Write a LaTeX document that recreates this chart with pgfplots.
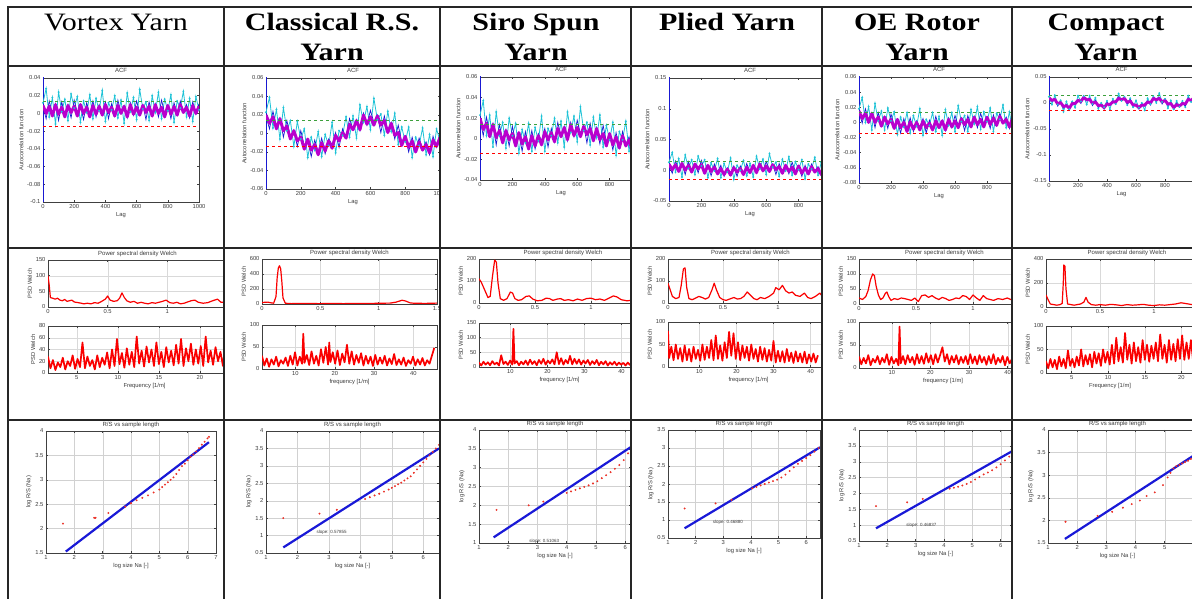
\documentclass[border=0pt]{standalone}
\usepackage{fontspec}
\setmainfont{Liberation Serif}
\setsansfont{Liberation Sans}
\usepackage{pgfplots}
\usepackage{pgfplotstable}
\pgfplotsset{compat=1.18}
\definecolor{acfcyan}{RGB}{30,195,215}
\definecolor{acfblue}{RGB}{25,25,210}
\definecolor{acfmag}{RGB}{185,0,205}
\definecolor{acfgreen}{RGB}{60,160,60}
\definecolor{psdred}{RGB}{250,0,0}
\definecolor{rsblue}{RGB}{25,25,215}
\definecolor{rsred}{RGB}{235,50,40}
\definecolor{tickc}{RGB}{60,60,60}

\pgfplotsset{
  base/.style={scale only axis, clip=true, scaled ticks=false,
    axis line style={black!75, line width=0.5pt},
    tick align=inside, major tick length=1.8pt,
    tick style={black!75, line width=0.4pt},
    tick label style={font=\sffamily\fontsize{5.8}{6.5}\selectfont, text=tickc},
    label style={font=\sffamily\fontsize{5.8}{6.5}\selectfont, text=tickc},
    title style={font=\sffamily\fontsize{6}{7}\selectfont, text=tickc, yshift=-4pt},
    /pgf/number format/assume math mode=true,
    /pgf/number format/fixed, /pgf/number format/precision=2,
    /pgf/number format/1000 sep={},
    xticklabel style={yshift=1pt}, yticklabel style={xshift=1pt},
    xlabel style={yshift=3pt}, ylabel style={yshift=-3pt}},
  acf/.style={base, xmin=0, xmax=1000, xtick={0,200,400,600,800,1000},
    xlabel={Lag}, ylabel={Autocorrelation function}, title={ACF}},
  psd/.style={base, grid=major, grid style={black!15, line width=0.3pt}, ylabel={PSD Welch}, ymin=0},
  psdtop/.style={psd, xmin=0, xmax=1.5, xtick={0,0.5,1,1.5}, title={Power spectral density Welch},
    title style={yshift=-2pt}},
  rs/.style={base, grid=major, grid style={black!18, line width=0.3pt},
    title={R/S vs sample length}, title style={yshift=-2pt}, xlabel={log size Na [-]}, ylabel={log R/S (Na)}},
  noisy/.style={psdred, line width=1.7pt, line join=round},
  smoothpsd/.style={psdred, line width=1.2pt, line join=round},
  rsline/.style={rsblue, line width=2.2pt},
  rspts/.style={rsred, only marks, mark=*, mark size=0.75pt},
}

\newcommand{\acfplots}[1]{%
  \addplot[acfblue, line width=0.6pt] coordinates {(0,-1) (0,1)};
  \addplot[acfcyan, line width=0.8pt, mark=*, mark size=0.5pt] table[x=l,y=c] {#1};
  \addplot[acfblue, line width=0.7pt] table[x=l,y=b] {#1};
  \addplot[acfmag, line width=2.9pt, line join=round] table[x=l,y=m] {#1};
  \addplot[acfgreen, dashed, line width=0.6pt] coordinates {(0,0.014) (1000,0.014)};
  \addplot[red, dashed, line width=0.6pt] coordinates {(0,-0.014) (1000,-0.014)};
}

\pgfplotstableread{
l c b m
0 0.012 0.008 0.009
20 0.028 -0.006 0
40 -0.004 0.014 0.008
60 0.018 0 -0.003
80 -0.012 0.011 0.010
100 0.024 -0.008 -0.001
120 0.002 0.013 0.007
140 0.016 -0.002 -0.004
160 -0.008 0.010 0.009
180 0.022 -0.005 0.001
200 0.006 0.015 0.008
220 0.019 0.001 -0.003
240 -0.010 0.009 0.010
260 0.014 -0.007 0
280 0.001 0.012 0.007
300 0.021 -0.001 -0.004
320 -0.006 0.014 0.009
340 0.017 -0.004 -0.001
360 0.003 0.010 0.008
380 0.026 0.002 -0.002
400 -0.009 0.013 0.010
420 0.012 -0.006 0.001
440 0.004 0.011 0.007
460 0.020 -0.003 -0.003
480 -0.005 0.015 0.009
500 0.015 0 0
520 -0.011 0.009 0.008
540 0.023 -0.005 -0.004
560 0.002 0.012 0.010
580 0.018 -0.002 -0.001
600 -0.007 0.014 0.007
620 0.027 0.001 -0.002
640 0.005 0.010 0.009
660 0.013 -0.007 0.001
680 -0.008 0.013 0.008
700 0.020 -0.001 -0.003
720 0.001 0.011 0.010
740 0.024 -0.004 0
760 -0.006 0.015 0.007
780 0.016 0 -0.004
800 0.003 0.009 0.009
820 0.021 -0.006 -0.001
840 -0.010 0.012 0.008
860 0.014 -0.002 -0.002
880 0.006 0.014 0.010
900 0.025 0.002 0.001
920 -0.004 0.010 0.007
940 0.017 -0.005 -0.003
960 -0.009 0.013 0.009
980 0.019 -0.001 0
1000 0.004 0.011 0.008
}\acfA

\pgfplotstableread{
l c b m
0 0.023 0.019 0.020
20 0.039 0.005 0.011
40 0.006 0.024 0.018
60 0.026 0.008 0.005
80 -0.006 0.017 0.016
100 0.028 -0.004 0.003
120 0.003 0.014 0.008
140 0.014 -0.004 -0.006
160 -0.014 0.004 0.003
180 0.013 -0.014 -0.008
200 -0.006 0.003 -0.004
220 0.005 -0.013 -0.017
240 -0.026 -0.007 -0.006
260 -0.004 -0.025 -0.018
280 -0.018 -0.007 -0.012
300 0.002 -0.020 -0.023
320 -0.025 -0.005 -0.010
340 -0.001 -0.022 -0.019
360 -0.013 -0.006 -0.008
380 0.012 -0.012 -0.016
400 -0.021 0.001 -0.002
420 0.003 -0.015 -0.008
440 -0.002 0.005 0.001
460 0.018 -0.005 -0.005
480 -0.004 0.016 0.010
500 0.019 0.004 0.004
520 -0.005 0.015 0.014
540 0.031 0.003 0.004
560 0.012 0.022 0.020
580 0.029 0.009 0.010
600 0.004 0.025 0.018
620 0.038 0.012 0.009
640 0.015 0.020 0.019
660 0.021 0.001 0.009
680 -0.002 0.019 0.014
700 0.024 0.003 0.001
720 0.002 0.012 0.011
740 0.022 -0.006 -0.002
760 -0.012 0.009 0.001
780 0.007 -0.009 -0.013
800 -0.009 -0.003 -0.003
820 0.007 -0.020 -0.015
840 -0.026 -0.004 -0.008
860 -0.004 -0.020 -0.020
880 -0.013 -0.005 -0.009
900 0.006 -0.017 -0.018
920 -0.023 -0.009 -0.012
940 -0.001 -0.023 -0.021
960 -0.025 -0.003 -0.007
980 0.005 -0.015 -0.014
1000 -0.008 -0.001 -0.004
}\acfB

\pgfplotstableread{
l c b m
0 0.023 0.019 0.020
20 0.037 0.003 0.009
40 0.003 0.021 0.015
60 0.023 0.005 0.002
80 -0.008 0.015 0.014
100 0.026 -0.006 0.001
120 0.003 0.014 0.008
140 0.016 -0.002 -0.004
160 -0.009 0.009 0.008
180 0.020 -0.007 -0.001
200 0.003 0.012 0.005
220 0.015 -0.003 -0.007
240 -0.014 0.005 0.006
260 0.009 -0.012 -0.005
280 -0.004 0.007 0.002
300 0.015 -0.007 -0.010
320 -0.012 0.008 0.003
340 0.011 -0.010 -0.007
360 -0.002 0.005 0.003
380 0.022 -0.002 -0.006
400 -0.012 0.010 0.007
420 0.010 -0.008 -0.001
440 0.003 0.010 0.006
460 0.020 -0.003 -0.003
480 -0.004 0.016 0.010
500 0.017 0.002 0.002
520 -0.008 0.012 0.011
540 0.026 -0.002 -0.001
560 0.006 0.016 0.014
580 0.022 0.002 0.003
600 -0.003 0.018 0.011
620 0.031 0.005 0.002
640 0.008 0.013 0.012
660 0.016 -0.004 0.004
680 -0.006 0.015 0.010
700 0.021 0 -0.002
720 0.001 0.011 0.010
740 0.023 -0.005 -0.001
760 -0.008 0.013 0.005
780 0.013 -0.003 -0.007
800 -0.001 0.005 0.005
820 0.016 -0.011 -0.006
840 -0.016 0.006 0.002
860 0.007 -0.009 -0.009
880 -0.001 0.007 0.003
900 0.017 -0.006 -0.007
920 -0.012 0.002 -0.001
940 0.008 -0.014 -0.012
960 -0.018 0.004 0
980 0.010 -0.010 -0.009
1000 -0.005 0.002 -0.001
}\acfC

\pgfplotstableread{
l c b m
0 0.013 0.009 0.010
20 0.029 -0.005 0.001
40 -0.003 0.015 0.009
60 0.019 0.001 -0.002
80 -0.011 0.012 0.011
100 0.025 -0.007 0
120 0.003 0.014 0.008
140 0.017 -0.001 -0.003
160 -0.007 0.011 0.010
180 0.023 -0.004 0.002
200 0.007 0.016 0.009
220 0.017 -0.001 -0.005
240 -0.012 0.007 0.008
260 0.012 -0.009 -0.002
280 -0.001 0.010 0.005
300 0.019 -0.003 -0.006
320 -0.012 0.008 0.003
340 0.011 -0.010 -0.007
360 -0.003 0.004 0.002
380 0.020 -0.004 -0.008
400 -0.015 0.007 0.004
420 0.008 -0.010 -0.003
440 0 0.007 0.003
460 0.016 -0.007 -0.007
480 -0.009 0.011 0.005
500 0.011 -0.004 -0.004
520 -0.011 0.009 0.008
540 0.023 -0.005 -0.004
560 0.002 0.012 0.010
580 0.018 -0.002 -0.001
600 -0.007 0.014 0.007
620 0.027 0.001 -0.002
640 0.005 0.010 0.009
660 0.013 -0.007 0.001
680 -0.010 0.011 0.006
700 0.018 -0.003 -0.005
720 -0.001 0.009 0.008
740 0.022 -0.006 -0.002
760 -0.008 0.013 0.005
780 0.014 -0.002 -0.006
800 0.001 0.007 0.007
820 0.017 -0.010 -0.005
840 -0.014 0.008 0.004
860 0.010 -0.006 -0.006
880 0.002 0.010 0.006
900 0.021 -0.002 -0.003
920 -0.008 0.006 0.003
940 0.013 -0.009 -0.007
960 -0.013 0.009 0.005
980 0.015 -0.005 -0.004
1000 0 0.007 0.004
}\acfD

\pgfplotstableread{
l c b m
0 0.018 0.014 0.015
20 0.033 -0.001 0.005
40 0 0.018 0.012
60 0.021 0.003 0
80 -0.010 0.013 0.012
100 0.025 -0.007 0
120 0.002 0.013 0.007
140 0.015 -0.003 -0.005
160 -0.010 0.008 0.007
180 0.019 -0.008 -0.002
200 0.002 0.011 0.004
220 0.014 -0.004 -0.008
240 -0.016 0.003 0.004
260 0.007 -0.014 -0.007
280 -0.006 0.005 0
300 0.013 -0.009 -0.012
320 -0.014 0.006 0.001
340 0.009 -0.012 -0.009
360 -0.005 0.002 0
380 0.018 -0.006 -0.010
400 -0.017 0.005 0.002
420 0.004 -0.014 -0.007
440 -0.004 0.003 -0.001
460 0.013 -0.010 -0.010
480 -0.012 0.008 0.002
500 0.008 -0.007 -0.007
520 -0.017 0.003 0.002
540 0.017 -0.011 -0.010
560 -0.004 0.006 0.004
580 0.013 -0.007 -0.006
600 -0.012 0.009 0.002
620 0.022 -0.004 -0.007
640 0.001 0.006 0.005
660 0.009 -0.011 -0.003
680 -0.012 0.009 0.004
700 0.017 -0.004 -0.006
720 -0.002 0.008 0.007
740 0.021 -0.007 -0.003
760 -0.009 0.012 0.004
780 0.014 -0.002 -0.006
800 0.001 0.007 0.007
820 0.019 -0.008 -0.003
840 -0.012 0.010 0.006
860 0.012 -0.004 -0.004
880 0.004 0.012 0.008
900 0.023 0 -0.001
920 -0.007 0.007 0.004
940 0.014 -0.008 -0.006
960 -0.012 0.010 0.006
980 0.016 -0.004 -0.003
1000 0.001 0.008 0.005
}\acfE

\pgfplotstableread{
l c b m
0 0.012 0.013 0.010
20 -0.003 0.003 0.005
40 0.015 0.009 0.007
60 -0.003 -0.006 -0.002
80 0.005 0.004 0.001
100 -0.017 -0.010 -0.007
120 0.003 -0.003 -0.005
140 -0.012 -0.014 -0.010
160 0.003 0.002 -0.001
180 -0.009 -0.003 -0.001
200 0.014 0.007 0.005
220 0.003 -0.001 0.003
240 0.013 0.014 0.011
260 -0.003 0.004 0.006
280 0.014 0.009 0.007
300 -0.002 -0.005 -0.001
320 0.010 0.005 0.002
340 -0.011 -0.008 -0.005
360 0 -0.002 -0.004
380 -0.008 -0.012 -0.009
400 0.004 0.001 -0.002
420 -0.012 -0.005 -0.003
440 0.008 0.004 0.002
460 -0.002 -0.002 0.002
480 0.018 0.012 0.009
500 0.004 0.004 0.006
520 0.012 0.011 0.009
540 -0.004 -0.003 0.001
560 0.009 0.007 0.004
580 -0.008 -0.007 -0.004
600 0.005 -0.002 -0.004
620 -0.009 -0.012 -0.009
640 0 -0.001 -0.004
660 -0.014 -0.006 -0.004
680 0.009 0.004 0.002
700 -0.002 -0.004 0
720 0.013 0.012 0.009
740 0 0.004 0.006
760 0.019 0.011 0.009
780 0.002 -0.002 0.002
800 0.008 0.008 0.005
820 -0.010 -0.005 -0.002
840 0.005 0.001 -0.001
860 -0.012 -0.012 -0.009
880 0.004 0 -0.003
900 -0.007 -0.008 -0.006
920 0.004 0.001 -0.001
940 -0.008 -0.006 -0.002
960 0.014 0.010 0.007
980 0.002 0.003 0.005
1000 0.015 0.012 0.010
}\acfF

\begin{document}
\begin{tikzpicture}
\path[use as bounding box, fill=white] (0,0) rectangle (1192pt,599pt);

% ---------- header row ----------
\begin{scope}[every node/.style={anchor=base, xscale=1.2, transform shape, font=\fontsize{25}{30}\selectfont\bfseries}]
\node[font=\fontsize{25}{30}\selectfont] at (116pt,568pt) {Vortex Yarn};
\node at (332pt,568pt) {Classical R.S.};
\node at (332pt,538pt) {Yarn};
\node at (536pt,568pt) {Siro Spun};
\node at (536pt,538pt) {Yarn};
\node at (727pt,568pt) {Plied Yarn};
\node at (917pt,568pt) {OE Rotor};
\node at (917pt,538pt) {Yarn};
\node at (1106pt,568pt) {Compact};
\node at (1106pt,538pt) {Yarn};
\end{scope}

% ---------- ACF row ----------
\begin{scope}\clip (9pt,352pt) rectangle (223pt,532pt);
\begin{axis}[acf, at={(43pt,397pt)}, anchor=south west, width=156pt, height=124pt,
  ymin=-0.1, ymax=0.04, ytick={-0.1,-0.08,-0.06,-0.04,-0.02,0,0.02,0.04}]
\acfplots{\acfA}
\end{axis}\end{scope}

\begin{scope}\clip (225pt,352pt) rectangle (439pt,532pt);
\begin{axis}[acf, at={(266pt,410pt)}, anchor=south west, width=174pt, height=111pt,
  ymin=-0.06, ymax=0.06, ytick={-0.06,-0.04,-0.02,0,0.02,0.04,0.06}]
\acfplots{\acfB}
\end{axis}\end{scope}

\begin{scope}\clip (441pt,352pt) rectangle (630pt,532pt);
\begin{axis}[acf, at={(480pt,419pt)}, anchor=south west, width=162pt, height=103pt,
  ymin=-0.04, ymax=0.06, ytick={-0.04,-0.02,0,0.02,0.04,0.06}]
\acfplots{\acfC}
\end{axis}\end{scope}

\begin{scope}\clip (632pt,352pt) rectangle (821pt,532pt);
\begin{axis}[acf, at={(669pt,398pt)}, anchor=south west, width=162pt, height=123pt,
  ymin=-0.05, ymax=0.15, ytick={-0.05,0,0.05,0.1,0.15}]
\acfplots{\acfD}
\end{axis}\end{scope}

\begin{scope}\clip (823pt,352pt) rectangle (1011pt,532pt);
\begin{axis}[acf, at={(859pt,416pt)}, anchor=south west, width=160pt, height=106pt,
  ymin=-0.08, ymax=0.06, ytick={-0.08,-0.06,-0.04,-0.02,0,0.02,0.04,0.06}]
\acfplots{\acfE}
\end{axis}\end{scope}

\begin{scope}\clip (1013pt,352pt) rectangle (1192pt,532pt);
\begin{axis}[acf, at={(1049pt,418pt)}, anchor=south west, width=145pt, height=104pt,
  xtick={0,200,400,600,800},
  ymin=-0.15, ymax=0.05, ytick={-0.15,-0.1,-0.05,0,0.05}]
\acfplots{\acfF}
\end{axis}\end{scope}

% ---------- PSD row ----------
% col 1
\begin{scope}\clip (9pt,180pt) rectangle (223pt,350pt);
\begin{axis}[psdtop, at={(48pt,292pt)}, anchor=south west, width=179pt, height=47pt,
  ymax=150, ytick={0,50,100,150}]
\addplot[smoothpsd] coordinates {(0,100)(0.01,70)(0.02,30)(0.04,28)(0.06,25)(0.08,28)(0.1,22)(0.12,20)(0.14,24)(0.16,18)(0.18,20)(0.2,22)(0.22,16)(0.25,14)(0.28,12)(0.3,10)(0.33,12)(0.36,10)(0.39,14)(0.42,12)(0.45,18)(0.48,25)(0.5,35)(0.52,22)(0.55,18)(0.58,20)(0.6,28)(0.62,45)(0.64,30)(0.66,20)(0.69,15)(0.72,18)(0.75,12)(0.78,15)(0.81,12)(0.84,10)(0.87,14)(0.9,12)(0.93,15)(0.96,18)(0.99,22)(1.02,14)(1.05,12)(1.08,15)(1.11,10)(1.14,12)(1.17,16)(1.2,20)(1.23,22)(1.26,15)(1.3,12)(1.34,14)(1.38,20)(1.42,25)(1.45,15)(1.5,15)};
\end{axis}
\begin{axis}[psd, at={(48pt,226pt)}, anchor=south west, width=193pt, height=47pt,
  xmin=1.5, xmax=25, xtick={5,10,15,20,25}, ymax=80, ytick={0,20,40,60,80}, xlabel={Frequency [1/m]}]
\addplot[noisy] coordinates {(1.5,28)(1.8,8)(2.1,22)(2.4,5)(2.7,18)(3.0,10)(3.3,26)(3.6,6)(3.9,20)(4.2,12)(4.5,30)(4.8,7)(5.1,24)(5.4,10)(5.7,52)(6.0,8)(6.3,28)(6.6,12)(6.9,22)(7.2,6)(7.5,30)(7.8,10)(8.1,26)(8.4,14)(8.7,35)(9.0,8)(9.3,40)(9.6,12)(9.9,58)(10.2,15)(10.5,34)(10.8,9)(11.1,42)(11.4,14)(11.7,36)(12.0,10)(12.3,62)(12.6,16)(12.9,38)(13.2,11)(13.5,45)(13.8,18)(14.1,40)(14.4,12)(14.7,52)(15.0,15)(15.3,36)(15.6,10)(15.9,44)(16.2,18)(16.5,38)(16.8,13)(17.1,48)(17.4,16)(17.7,58)(18.0,12)(18.3,42)(18.6,20)(18.9,50)(19.2,14)(19.5,40)(19.8,16)(20.1,46)(20.4,12)(20.7,62)(21.0,18)(21.3,38)(21.6,14)(21.9,44)(22.2,20)(22.5,36)(22.8,12)(23.1,50)(23.4,16)(23.7,40)(24.0,14)(24.3,38)(24.6,18)(24.9,30)};
\end{axis}\end{scope}

% col 2
\begin{scope}\clip (225pt,180pt) rectangle (439pt,350pt);
\begin{axis}[psdtop, at={(262pt,295pt)}, anchor=south west, width=175pt, height=45pt,
  ymax=600, ytick={0,200,400,600}]
\addplot[smoothpsd] coordinates {(0,20)(0.05,25)(0.08,15)(0.1,10)(0.12,100)(0.13,350)(0.14,480)(0.15,510)(0.16,470)(0.17,300)(0.18,80)(0.2,10)(0.25,5)(0.3,8)(0.4,6)(0.5,5)(0.6,7)(0.7,5)(0.8,8)(0.9,6)(1.0,10)(1.1,12)(1.15,25)(1.2,50)(1.23,40)(1.27,15)(1.3,10)(1.4,8)(1.5,12)};
\end{axis}
\begin{axis}[psd, at={(262pt,230pt)}, anchor=south west, width=175pt, height=44pt,
  xmin=1.5, xmax=46, xtick={10,20,30,40}, ymax=100, ytick={0,50,100}, xlabel={frequency [1/m]}]
\addplot[noisy] coordinates {(1.5,30)(2.1,8)(2.7,24)(3.3,5)(3.9,22)(4.5,10)(5.1,28)(5.7,6)(6.3,20)(6.9,12)(7.5,26)(8.1,7)(8.7,30)(9.3,10)(9.9,38)(10.5,8)(11.1,28)(11.7,12)(12.0,80)(12.3,14)(12.9,32)(13.5,9)(14.1,40)(14.7,12)(15.3,30)(15.9,8)(16.5,45)(17.1,14)(17.7,50)(18.3,10)(18.6,60)(18.9,16)(19.5,38)(20.1,12)(20.7,42)(21.3,9)(21.9,35)(22.5,15)(23.1,55)(23.7,12)(24.3,40)(24.9,10)(25.5,32)(26.1,14)(26.7,36)(27.3,8)(27.9,30)(28.5,12)(29.1,28)(29.7,7)(30.3,32)(30.9,10)(31.5,26)(32.1,12)(32.7,30)(33.3,8)(33.9,24)(34.5,11)(35.1,34)(35.7,9)(36.3,22)(36.9,10)(37.5,26)(38.1,7)(38.7,20)(39.3,12)(39.9,28)(40.5,8)(41.1,22)(41.7,10)(42.3,25)(42.9,8)(43.5,20)(44.1,12)(44.7,30)(45.3,48)};
\end{axis}\end{scope}

% col 3
\begin{scope}\clip (441pt,180pt) rectangle (630pt,350pt);
\begin{axis}[psdtop, at={(479pt,296pt)}, anchor=south west, width=168pt, height=44pt,
  xtick={0,0.5,1}, ymax=200, ytick={0,100,200}]
\addplot[smoothpsd] coordinates {(0,110)(0.02,95)(0.05,60)(0.08,25)(0.1,30)(0.12,120)(0.14,195)(0.155,185)(0.17,90)(0.19,20)(0.22,12)(0.25,20)(0.28,50)(0.3,45)(0.32,20)(0.35,12)(0.38,15)(0.42,30)(0.45,32)(0.48,18)(0.52,10)(0.56,12)(0.6,22)(0.63,20)(0.66,12)(0.7,18)(0.73,20)(0.76,12)(0.8,15)(0.84,10)(0.88,18)(0.92,12)(0.96,20)(1.0,22)(1.04,15)(1.08,18)(1.12,12)(1.16,22)(1.2,32)(1.23,28)(1.27,15)(1.32,10)(1.36,12)(1.4,15)(1.5,12)};
\end{axis}
\begin{axis}[psd, at={(479pt,232pt)}, anchor=south west, width=161pt, height=44pt,
  xmin=1.5, xmax=45, xtick={10,20,30,40}, ymax=150, ytick={0,50,100,150}, xlabel={frequency [1/m]}]
\addplot[noisy] coordinates {(1.5,15)(2.1,5)(2.7,18)(3.3,8)(3.9,16)(4.5,6)(5.1,20)(5.7,9)(6.3,15)(6.9,5)(7.5,40)(8.1,10)(8.7,18)(9.3,7)(9.9,22)(10.5,8)(10.8,130)(11.1,12)(11.7,20)(12.3,6)(12.9,18)(13.5,9)(14.1,22)(14.7,7)(15.3,25)(15.9,10)(16.5,20)(17.1,6)(17.7,24)(18.3,11)(18.9,28)(19.5,8)(20.1,22)(20.7,12)(21.3,26)(21.9,9)(22.5,50)(23.1,10)(23.7,30)(24.3,8)(24.9,24)(25.5,12)(26.1,38)(26.7,9)(27.3,28)(27.9,11)(28.5,26)(29.1,8)(29.7,22)(30.3,12)(30.9,24)(31.5,7)(32.1,20)(32.7,10)(33.3,24)(33.9,6)(34.5,18)(35.1,9)(35.7,20)(36.3,5)(36.9,16)(37.5,8)(38.1,18)(38.7,6)(39.3,15)(39.9,8)(40.5,14)(41.1,5)(41.7,15)(42.3,7)(42.9,12)(43.5,6)(44.1,14)(44.7,8)};
\end{axis}\end{scope}

% col 4
\begin{scope}\clip (632pt,180pt) rectangle (821pt,350pt);
\begin{axis}[psdtop, at={(668pt,296pt)}, anchor=south west, width=165pt, height=44pt,
  xtick={0,0.5,1}, ymax=200, ytick={0,100,200}]
\addplot[smoothpsd] coordinates {(0,90)(0.02,60)(0.04,30)(0.07,20)(0.1,25)(0.12,80)(0.14,155)(0.155,160)(0.17,70)(0.19,20)(0.22,15)(0.25,22)(0.28,30)(0.31,25)(0.34,18)(0.37,25)(0.4,60)(0.42,90)(0.44,60)(0.47,25)(0.5,15)(0.53,12)(0.56,18)(0.6,25)(0.63,18)(0.66,20)(0.69,30)(0.72,50)(0.75,35)(0.78,20)(0.81,15)(0.84,25)(0.88,20)(0.92,30)(0.96,45)(0.98,70)(1.01,60)(1.04,80)(1.07,55)(1.1,45)(1.13,50)(1.16,35)(1.2,30)(1.24,45)(1.27,25)(1.3,20)(1.34,30)(1.38,45)(1.42,20)(1.46,15)(1.5,20)};
\end{axis}
\begin{axis}[psd, at={(668pt,232pt)}, anchor=south west, width=161pt, height=45pt,
  xmin=1.5, xmax=45, xtick={10,20,30,40}, ymax=100, ytick={0,50,100}, xlabel={frequency [1/m]}]
\addplot[noisy] coordinates {(1.5,80)(1.8,20)(2.4,45)(3.0,15)(3.6,50)(4.2,18)(4.8,42)(5.4,12)(6.0,48)(6.6,15)(7.2,40)(7.8,12)(8.4,45)(9.0,18)(9.6,38)(10.2,14)(10.8,50)(11.4,16)(12.0,45)(12.6,20)(13.2,60)(13.8,15)(14.4,70)(15.0,18)(15.6,48)(16.2,14)(16.8,55)(17.4,20)(18.0,78)(18.6,25)(19.2,75)(19.8,18)(20.4,55)(21.0,15)(21.6,48)(22.2,20)(22.8,45)(23.4,14)(24.0,50)(24.6,18)(25.2,40)(25.8,12)(26.4,45)(27.0,16)(27.6,42)(28.2,12)(28.8,38)(29.4,14)(30.0,58)(30.6,10)(31.2,36)(31.8,12)(32.4,35)(33.0,10)(33.6,40)(34.2,13)(34.8,32)(35.4,9)(36.0,35)(36.6,12)(37.2,30)(37.8,10)(38.4,34)(39.0,8)(39.6,28)(40.2,12)(40.8,30)(41.4,10)(42.0,26)};
\end{axis}\end{scope}

% col 5
\begin{scope}\clip (823pt,180pt) rectangle (1011pt,350pt);
\begin{axis}[psdtop, at={(859pt,295pt)}, anchor=south west, width=171pt, height=45pt,
  xtick={0,0.5,1}, ymax=150, ytick={0,50,100,150}]
\addplot[smoothpsd] coordinates {(0,20)(0.03,15)(0.06,25)(0.08,45)(0.1,80)(0.12,100)(0.135,95)(0.15,60)(0.17,30)(0.19,15)(0.21,20)(0.23,35)(0.245,40)(0.26,25)(0.28,12)(0.31,18)(0.34,15)(0.37,20)(0.4,18)(0.43,15)(0.46,12)(0.49,20)(0.52,8)(0.55,28)(0.58,30)(0.61,22)(0.64,28)(0.67,20)(0.7,15)(0.73,22)(0.76,18)(0.79,12)(0.82,15)(0.85,20)(0.88,18)(0.91,28)(0.94,25)(0.97,15)(1.0,30)(1.03,20)(1.06,12)(1.09,28)(1.12,18)(1.15,15)(1.18,12)(1.22,18)(1.26,15)(1.3,20)(1.35,12)(1.4,18)(1.5,15)};
\end{axis}
\begin{axis}[psd, at={(859pt,231pt)}, anchor=south west, width=168pt, height=46pt,
  xmin=1.5, xmax=45, xtick={10,20,30,40}, ymax=100, ytick={0,50,100}, xlabel={frequency [1/m]}]
\addplot[noisy] coordinates {(1.5,25)(2.1,8)(2.7,22)(3.3,10)(3.9,28)(4.5,6)(5.1,20)(5.7,12)(6.3,26)(6.9,8)(7.5,22)(8.1,12)(8.7,30)(9.3,7)(9.9,24)(10.5,10)(11.1,20)(11.7,6)(12.0,90)(12.3,10)(12.9,26)(13.5,8)(14.1,28)(14.7,12)(15.3,24)(15.9,7)(16.5,30)(17.1,10)(17.7,26)(18.3,9)(18.9,32)(19.5,12)(20.1,28)(20.7,8)(21.3,30)(21.9,12)(22.5,28)(23.1,45)(23.7,14)(24.3,30)(24.9,8)(25.5,26)(26.1,12)(26.7,28)(27.3,8)(27.9,24)(28.5,11)(29.1,26)(29.7,8)(30.3,30)(30.9,10)(31.5,25)(32.1,8)(32.7,28)(33.3,12)(33.9,24)(34.5,7)(35.1,26)(35.7,10)(36.3,30)(36.9,8)(37.5,22)(38.1,12)(38.7,26)(39.3,6)(39.9,24)(40.5,10)(41.1,20)};
\end{axis}\end{scope}

% col 6
\begin{scope}\clip (1013pt,180pt) rectangle (1192pt,350pt);
\begin{axis}[psdtop, at={(1046pt,292pt)}, anchor=south west, width=162pt, height=48pt,
  xtick={0,0.5,1}, ymax=400, ytick={0,200,400}]
\addplot[smoothpsd] coordinates {(0,100)(0.02,60)(0.04,25)(0.07,20)(0.1,15)(0.13,20)(0.15,30)(0.16,200)(0.165,350)(0.175,340)(0.185,150)(0.2,25)(0.23,20)(0.26,15)(0.29,20)(0.32,25)(0.35,40)(0.37,80)(0.39,40)(0.42,20)(0.46,15)(0.5,20)(0.55,15)(0.6,22)(0.65,18)(0.7,12)(0.75,20)(0.8,15)(0.85,18)(0.9,22)(0.95,15)(1.0,12)(1.05,18)(1.1,15)(1.15,20)(1.2,25)(1.25,35)(1.3,28)(1.35,20)(1.4,15)(1.5,18)};
\end{axis}
\begin{axis}[psd, at={(1046pt,226pt)}, anchor=south west, width=172pt, height=47pt,
  xmin=1.5, xmax=25, xtick={5,10,15,20}, ymax=100, ytick={0,50,100}, xlabel={Frequency [1/m]},
  xlabel style={xshift=-22pt}]
\addplot[noisy] coordinates {(1.5,25)(1.8,10)(2.1,30)(2.4,12)(2.7,28)(3.0,8)(3.3,35)(3.6,14)(3.9,30)(4.2,10)(4.5,48)(4.8,15)(5.1,30)(5.4,12)(5.7,35)(6.0,16)(6.3,50)(6.6,14)(6.9,38)(7.2,18)(7.5,40)(7.8,12)(8.1,45)(8.4,20)(8.7,42)(9.0,15)(9.3,50)(9.6,22)(9.9,45)(10.2,18)(10.5,60)(10.8,20)(11.1,75)(11.4,25)(11.7,55)(12.0,22)(12.3,85)(12.6,28)(12.9,60)(13.2,20)(13.5,65)(13.8,25)(14.1,55)(14.4,22)(14.7,70)(15.0,28)(15.3,60)(15.6,24)(15.9,58)(16.2,30)(16.5,65)(16.8,25)(17.1,82)(17.4,30)(17.7,60)(18.0,22)(18.3,70)(18.6,28)(18.9,62)(19.2,25)(19.5,72)(19.8,30)(20.1,80)(20.4,28)(20.7,65)(21.0,30)(21.3,70)(21.6,25)(21.9,60)(22.2,30)};
\end{axis}\end{scope}

% ---------- R/S row ----------
\begin{scope}\clip (9pt,0pt) rectangle (223pt,178pt);
\begin{axis}[rs, at={(46pt,46pt)}, anchor=south west, width=170pt, height=122pt,
  xmin=1, xmax=7, ymin=1.5, ymax=4, xtick={1,2,3,4,5,6,7}, ytick={1.5,2,2.5,3,3.5,4}]
\addplot[rsline] coordinates {(1.7,1.53) (6.75,3.77)};
\addplot[rspts] coordinates {(1.6,2.1)(2.7,2.22)(2.75,2.22)(3.2,2.32)(3.8,2.45)(4.0,2.52)(4.2,2.58)(4.4,2.63)(4.6,2.68)(4.8,2.74)(5.0,2.8)(5.1,2.85)(5.2,2.9)(5.3,2.95)(5.4,3.0)(5.5,3.05)(5.6,3.12)(5.7,3.2)(5.8,3.28)(5.9,3.33)(6.0,3.4)(6.1,3.47)(6.2,3.52)(6.3,3.58)(6.4,3.65)(6.5,3.72)(6.6,3.78)(6.7,3.85)(6.75,3.88)};
\end{axis}\end{scope}

\begin{scope}\clip (225pt,0pt) rectangle (439pt,178pt);
\begin{axis}[rs, at={(266pt,46pt)}, anchor=south west, width=173pt, height=122pt,
  xmin=1, xmax=6.5, ymin=0.5, ymax=4, xtick={1,2,3,4,5,6}, ytick={0.5,1,1.5,2,2.5,3,3.5,4}]
\addplot[rsline] coordinates {(1.55,0.66) (6.5,3.5)};
\addplot[rspts] coordinates {(1.55,1.5)(2.7,1.63)(3.25,1.74)(4.15,2.05)(4.3,2.1)(4.45,2.15)(4.6,2.2)(4.75,2.26)(4.9,2.32)(5.0,2.37)(5.1,2.42)(5.2,2.47)(5.3,2.52)(5.4,2.58)(5.5,2.64)(5.6,2.7)(5.7,2.8)(5.8,2.9)(5.9,3.0)(6.0,3.1)(6.1,3.2)(6.2,3.3)(6.3,3.4)(6.4,3.5)(6.5,3.6)};
\node[font=\sffamily\fontsize{4.5}{5}\selectfont, text=tickc, anchor=west] at (axis cs:2.5,1.08) {slope: 0.57855};
\end{axis}\end{scope}

\begin{scope}\clip (441pt,0pt) rectangle (630pt,178pt);
\begin{axis}[rs, at={(479pt,56pt)}, anchor=south west, width=152pt, height=113pt,
  xmin=1, xmax=6.2, ymin=1, ymax=4, xtick={1,2,3,4,5,6}, ytick={1,1.5,2,2.5,3,3.5,4}]
\addplot[rsline] coordinates {(1.5,1.15) (6.2,3.55)};
\addplot[rspts] coordinates {(1.6,1.88)(2.7,2.0)(3.2,2.1)(4.0,2.33)(4.15,2.37)(4.3,2.41)(4.45,2.45)(4.6,2.49)(4.75,2.53)(4.9,2.58)(5.05,2.64)(5.2,2.72)(5.35,2.8)(5.5,2.88)(5.65,2.97)(5.8,3.07)(5.95,3.2)(6.1,3.38)(6.2,3.48)};
\node[font=\sffamily\fontsize{4.5}{5}\selectfont, text=tickc, anchor=west] at (axis cs:2.6,1.05) {slope: 0.51063};
\end{axis}\end{scope}

\begin{scope}\clip (632pt,0pt) rectangle (821pt,178pt);
\begin{axis}[rs, at={(668pt,61pt)}, anchor=south west, width=152pt, height=108pt,
  xmin=1, xmax=6.5, ymin=0.5, ymax=3.5, xtick={1,2,3,4,5,6}, ytick={0.5,1,1.5,2,2.5,3,3.5}]
\addplot[rsline] coordinates {(1.6,0.77) (6.5,3.02)};
\addplot[rspts] coordinates {(1.6,1.32)(2.72,1.46)(3.3,1.56)(4.05,1.88)(4.2,1.92)(4.35,1.96)(4.5,2.0)(4.65,2.04)(4.8,2.08)(4.95,2.12)(5.1,2.18)(5.25,2.26)(5.4,2.36)(5.55,2.46)(5.7,2.56)(5.85,2.64)(6.0,2.72)(6.15,2.8)(6.3,2.9)(6.45,3.0)};
\node[font=\sffamily\fontsize{4.5}{5}\selectfont, text=tickc, anchor=west] at (axis cs:2.5,0.94) {slope: 0.46880};
\end{axis}\end{scope}

\begin{scope}\clip (823pt,0pt) rectangle (1011pt,178pt);
\begin{axis}[rs, at={(859pt,58pt)}, anchor=south west, width=153pt, height=111pt,
  xmin=1, xmax=6.4, ymin=0.5, ymax=4, xtick={1,2,3,4,5,6}, ytick={0.5,1,1.5,2,2.5,3,3.5,4}]
\addplot[rsline] coordinates {(1.6,0.9) (6.4,3.33)};
\addplot[rspts] coordinates {(1.6,1.6)(2.7,1.72)(3.25,1.83)(4.2,2.15)(4.35,2.18)(4.5,2.21)(4.65,2.25)(4.8,2.3)(4.95,2.36)(5.1,2.44)(5.25,2.52)(5.4,2.6)(5.55,2.66)(5.7,2.73)(5.85,2.82)(6.0,2.92)(6.15,3.04)(6.3,3.16)(6.4,3.25)};
\node[font=\sffamily\fontsize{4.5}{5}\selectfont, text=tickc, anchor=west] at (axis cs:2.55,1.0) {slope: 0.46837};
\end{axis}\end{scope}

\begin{scope}\clip (1013pt,0pt) rectangle (1192pt,178pt);
\begin{axis}[rs, at={(1048pt,56pt)}, anchor=south west, width=175pt, height=113pt,
  xmin=1, xmax=7, ymin=1.5, ymax=4, xtick={1,2,3,4,5}, ytick={1.5,2,2.5,3,3.5,4},
  title style={xshift=-18pt}, xlabel style={xshift=-18pt}]
\addplot[rsline] coordinates {(1.58,1.59) (6.7,3.73)};
\addplot[rspts] coordinates {(1.6,1.97)(2.7,2.1)(3.2,2.19)(3.57,2.28)(3.87,2.36)(4.15,2.44)(4.38,2.54)(4.66,2.62)(4.94,2.78)(5.1,2.95)(5.2,3.05)(5.3,3.15)(5.4,3.2)(5.5,3.23)(5.6,3.26)(5.7,3.29)(5.8,3.32)(5.9,3.36)(6.0,3.4)};
\end{axis}\end{scope}

% ---------- table rules ----------
\begin{scope}[line width=1.6pt, black!85]
\draw (8pt,592pt) -- (1192pt,592pt);
\draw (8pt,533pt) -- (1192pt,533pt);
\draw (8pt,351pt) -- (1192pt,351pt);
\draw (8pt,179pt) -- (1192pt,179pt);
\foreach \xx in {8,224,440,631,822,1012} {\draw (\xx pt,592.8pt) -- (\xx pt,0pt);}
\end{scope}
\end{tikzpicture}
\end{document}
